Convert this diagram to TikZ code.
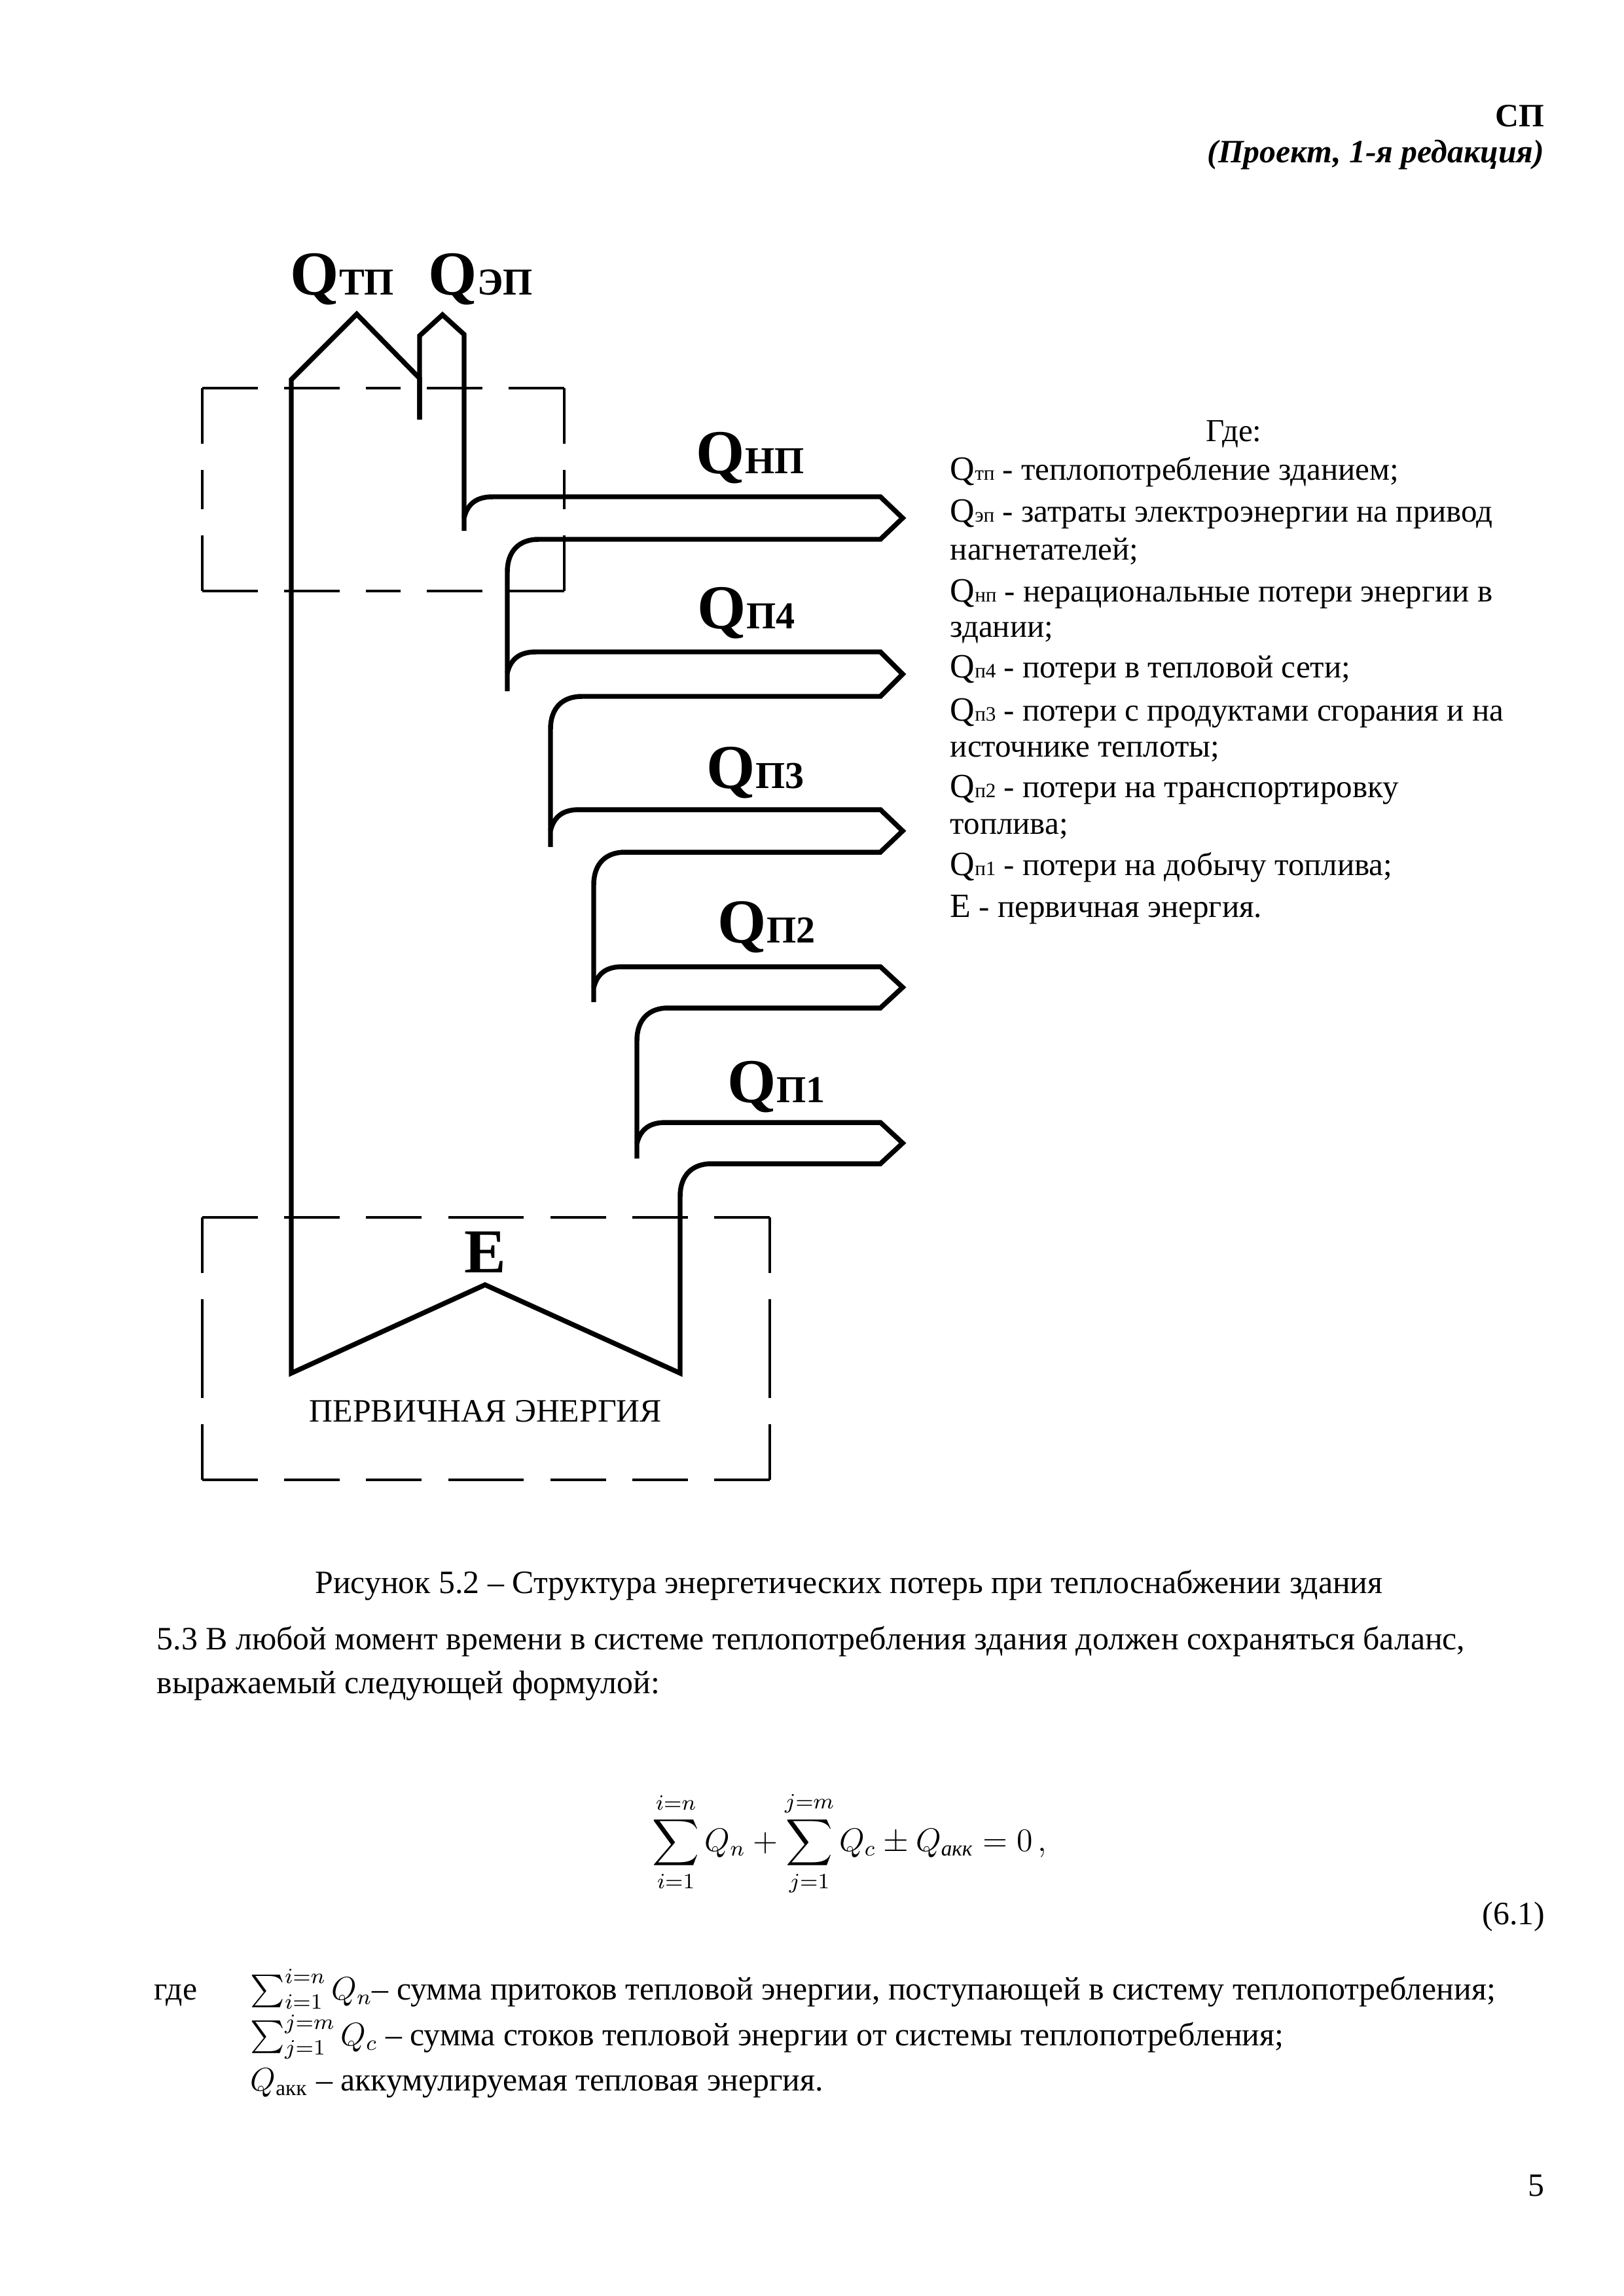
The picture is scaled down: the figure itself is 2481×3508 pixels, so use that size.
\documentclass[tikz,border=0pt]{standalone}
\usepackage{amsmath}
\usepackage{fontspec}
\setmainfont{Liberation Serif}
\newcommand\legQ[1]{{\fontsize{12.5}{14}\selectfont Q}{\fontsize{7.5}{9}\selectfont #1}}
\newcommand\bigQ[1]{Q{\fontsize{14}{16}\selectfont #1}}
\begin{document}
\begin{tikzpicture}[x=0.0846667mm,y=-0.0846667mm,
  flow/.style={line width=1.8pt},
  dbox/.style={line width=0.8pt, dash pattern=on 7.2mm off 3.4mm},
  qlab/.style={inner sep=0pt, anchor=base west, font=\bfseries\fontsize{23}{26}\selectfont},
  leg/.style={inner sep=0pt, anchor=base west, font=\fontsize{11.8}{13}\selectfont},
  body/.style={inner sep=0pt, anchor=base west, font=\fontsize{12}{14}\selectfont}]
\useasboundingbox (0,0) rectangle (2481,3508);
\fill[white] (0,0) rectangle (2481,3508);

% header
\node[inner sep=0pt, anchor=base east, font=\bfseries\fontsize{12}{14}\selectfont] (hd1) at (2360,193) {СП};
\node[inner sep=0pt, anchor=base east, font=\bfseries\itshape\fontsize{12}{14}\selectfont] (hd2) at (2360,248) {(Проект, 1-я редакция)};

% dashed boxes (each side from both corners)
\foreach \xa/\ya/\xb/\yb in {309/593/862/903, 309/1860/1176/2261}{
  \draw[dbox] (\xa,\ya) -- ({(\xa+\xb)/2},\ya);
  \draw[dbox] (\xb,\ya) -- ({(\xa+\xb)/2},\ya);
  \draw[dbox] (\xa,\yb) -- ({(\xa+\xb)/2},\yb);
  \draw[dbox] (\xb,\yb) -- ({(\xa+\xb)/2},\yb);
  \draw[dbox] (\xa,\ya) -- (\xa,{(\ya+\yb)/2});
  \draw[dbox] (\xa,\yb) -- (\xa,{(\ya+\yb)/2});
  \draw[dbox] (\xb,\ya) -- (\xb,{(\ya+\yb)/2});
  \draw[dbox] (\xb,\yb) -- (\xb,{(\ya+\yb)/2});
}

% electric energy branch
\draw[flow] (641,641) -- (641,513) -- (676,481) -- (709,511) -- (709,811);

% loss pipes
\foreach \T/\B/\E/\X/\N in {759/824/709/775/1056, 996/1064/775/841/1294, 1237/1302/841/907/1531, 1477/1540/907/973/1770}
  \draw[flow] (\E,\T+32) .. controls (\E+6,\T+8) and (\E+22,\T) .. (\E+44,\T) -- (1345,\T) -- (1379,{(\T+\B)/2}) -- (1345,\B) -- (\X+48,\B) .. controls (\X+18,\B) and (\X,\B+18) .. (\X,\B+50) -- (\X,\N);

% last pipe, primary energy and main flow
\draw[flow] (973,1747) .. controls (979,1723) and (995,1715) .. (1017,1715) -- (1345,1715) -- (1379,1746.5) -- (1345,1778) -- (1087,1778) .. controls (1057,1778) and (1039,1796) .. (1039,1828) -- (1039,2098) -- (741,1963) -- (445,2098) -- (445,580) -- (545,480) -- (641,578) -- (641,641);

% diagram labels
\node[qlab] (qtp) at (443,450) {\bigQ{ТП}};
\node[qlab] (qep) at (654,450) {\bigQ{ЭП}};
\node[qlab] (qnp) at (1063,723) {\bigQ{НП}};
\node[qlab] (qp4) at (1065,960) {\bigQ{П4}};
\node[qlab] (qp3) at (1079,1204) {\bigQ{П3}};
\node[qlab] (qp2) at (1096,1440) {\bigQ{П2}};
\node[qlab] (qp1) at (1111,1684) {\bigQ{П1}};
\node[inner sep=0pt, anchor=base, font=\bfseries\fontsize{23}{26}\selectfont] (e) at (741,1944) {E};
\node[inner sep=0pt, anchor=base, font=\fontsize{12}{14}\selectfont] (pe) at (742,2172) {ПЕРВИЧНАЯ ЭНЕРГИЯ};

% legend
\node[leg, anchor=base] (l0) at (1885,674) {Где:};
\node[leg] (l1) at (1451,733) {\legQ{тп} - теплопотребление зданием;};
\node[leg] (l2) at (1451,797) {\legQ{эп} - затраты электроэнергии на привод};
\node[leg] (l3) at (1451,855) {нагнетателей;};
\node[leg] (l4) at (1451,919) {\legQ{нп} - нерациональные потери энергии в};
\node[leg] (l5) at (1451,973) {здании;};
\node[leg] (l6) at (1451,1035) {\legQ{п4} - потери в тепловой сети;};
\node[leg] (l7) at (1451,1101) {\legQ{п3} - потери с продуктами сгорания и на};
\node[leg] (l8) at (1451,1156) {источнике теплоты;};
\node[leg] (l9) at (1451,1218) {\legQ{п2} - потери на транспортировку};
\node[leg] (l10) at (1451,1274) {топлива;};
\node[leg] (l11) at (1451,1337) {\legQ{п1} - потери на добычу топлива;};
\node[leg] (l12) at (1451,1401) {{\fontsize{12.5}{14}\selectfont E} - первичная энергия.};

% caption and body text
\node[body, anchor=base] (cap) at (1297,2434) {Рисунок 5.2 – Структура энергетических потерь при теплоснабжении здания};
\node[body] (t1) at (239,2520) {5.3 В любой момент времени в системе теплопотребления здания должен сохраняться баланс,};
\node[body] (t2) at (239,2587) {выражаемый следующей формулой:};
\node[body, anchor=base] (form) at (1298,2828) {$\displaystyle\sum_{i=1}^{i=n} Q_n + \sum_{j=1}^{j=m} Q_c \pm Q_{\textit{акк}} = 0\,,$};
\node[body, anchor=base east] (eqn) at (2361,2940) {(6.1)};
\node[body] (w0) at (235,3055) {где};
\node[body] (w1) at (382,3055) {$\sum_{i=1}^{i=n} Q_n$– сумма притоков тепловой энергии, поступающей в систему теплопотребления;};
\node[body] (w2) at (382,3125) {$\sum_{j=1}^{j=m} Q_c$ – сумма стоков тепловой энергии от системы теплопотребления;};
\node[body] (w3) at (382,3194) {$Q_{\text{акк}}$ – аккумулируемая тепловая энергия.};
\node[body, anchor=base east] (pg) at (2360,3355) {5};
\end{tikzpicture}
\end{document}
